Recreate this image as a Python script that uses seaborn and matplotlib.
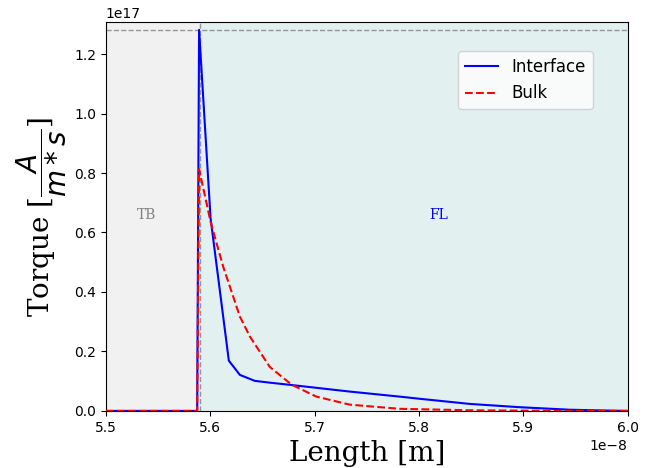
import matplotlib
matplotlib.use("Agg")
import matplotlib.pyplot as plt
import seaborn as sns
import numpy as np

# values (x in units of 1e-8 m, y in units of 1e17)
x_interface = [5.50, 5.5875, 5.5893, 5.6003, 5.6178, 5.6284, 5.6427, 5.657, 5.678,
               5.7337, 5.7816, 5.80, 5.8487, 5.8966, 5.944, 5.983, 6.00]
y_interface = [0.0, 0.0, 1.2815, 0.648, 0.169, 0.121, 0.101, 0.095, 0.087,
               0.065, 0.048, 0.041, 0.0235, 0.0124, 0.004, 0.001, 0.0]
x_bulk = [5.50, 5.5875, 5.5893, 5.5958, 5.6003, 5.6124, 5.6284, 5.638, 5.657,
          5.678, 5.7017, 5.7337, 5.7816, 5.85, 5.92, 6.00]
y_bulk = [0.0, 0.0, 0.813, 0.709, 0.636, 0.485, 0.317, 0.25, 0.148,
          0.088, 0.048, 0.021, 0.007, 0.002, 0.0005, 0.0]
x_scale = 1e-8
y_scale = 1e17
boundary = 5.59
region_labels = ["TB", "FL"]
series_labels = ["Interface", "Bulk"]

xi = np.array(x_interface) * x_scale
yi = np.array(y_interface) * y_scale
xb = np.array(x_bulk) * x_scale
yb = np.array(y_bulk) * y_scale
ymax = yi.max()

fig = plt.figure(figsize=(6.7, 4.68), dpi=100)
ax = fig.add_axes([0.158, 0.122, 0.779, 0.8305])

ax.axvspan(5.5 * x_scale, boundary * x_scale, color="#f1f1f1", zorder=0)
ax.axvspan(boundary * x_scale, 6.0 * x_scale, color="#e2f0f0", zorder=0)
ax.axvline(boundary * x_scale, color="gray", ls="--", lw=1, alpha=0.8, zorder=1)
ax.axhline(ymax, color="gray", ls="--", lw=1, alpha=0.8, zorder=1)

sns.lineplot(x=xi, y=yi, ax=ax, color="blue", lw=1.5, label=series_labels[0],
             estimator=None, sort=False, zorder=3)
sns.lineplot(x=xb, y=yb, ax=ax, color="red", lw=1.5, ls="--", label=series_labels[1],
             estimator=None, sort=False, zorder=3)

ax.text(5.539 * x_scale, 0.66 * y_scale, region_labels[0], color="gray",
        family="serif", fontsize=10, ha="center", va="center")
ax.text(5.819 * x_scale, 0.66 * y_scale, region_labels[1], color="blue",
        family="serif", fontsize=10, ha="center", va="center")

ax.set_xlim(5.5 * x_scale, 6.0 * x_scale)
ax.set_ylim(0, ymax * 1.02)
ax.set_yticks(np.arange(0, 1.21, 0.2) * y_scale)
ax.set_xlabel("Length [m]", family="serif", fontsize=20)
ax.set_ylabel(r"Torque [$\dfrac{A}{m*s}$]", family="serif", fontsize=20)

ax.legend(loc="upper right", bbox_to_anchor=(0.933, 0.925), borderaxespad=0,
          fontsize=12)

fig.savefig("out.png", dpi=100)
